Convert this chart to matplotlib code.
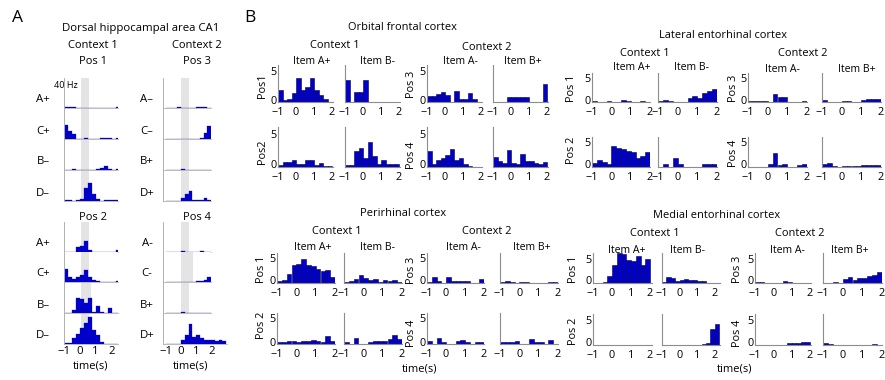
import numpy as np
import matplotlib
matplotlib.use("Agg")
import matplotlib.pyplot as plt
from matplotlib.transforms import ScaledTranslation

# time bins (s): every histogram starts at -1 s, 0.25 s per bin
t0 = -1.0
dt = 0.25

# ---- A: dorsal CA1, firing rate (Hz) per bin
ca1_pos1 = [1, 1, 2, 0, 0, 0, 0, 0, 0, 0, 0, 0, 0, 2]
ca1_pos1_c = [19, 11, 7, 0, 0, 1, 0, 0, 0, 1, 2, 1, 0, 1]
ca1_pos1_b = [0, 0, 1, 0, 0, 0, 0, 0, 1, 3, 5, 1, 0, 1]
ca1_pos1_d = [1, 1, 0, 1, 3, 18, 24, 10, 3, 0, 2, 2, 1, 2]
ca1_pos2 = [0, 0, 0, 7, 8, 15, 2, 0, 0, 0, 0, 0, 0, 2]
ca1_pos2_c = [18, 7, 4, 7, 10, 16, 7, 3, 2, 0, 0, 0, 0, 2]
ca1_pos2_b = [0, 0, 4, 20, 19, 14, 20, 2, 9, 2, 0, 7, 0, 0]
ca1_pos2_d = [1, 2, 8, 13, 21, 28, 36, 19, 12, 3, 0, 0, 0, 0]
ca1_pos3 = [0, 0, 0, 0.7, 0, 0, 0, 0, 0.7, 1.5, 1, 0]
ca1_pos3_c = [0, 0, 0, 0, 0, 0, 0, 0, 0, 1, 8, 18]
ca1_pos3_b = [0.3, 0.3, 0, 0, 0.7, 0, 0, 0, 0, 0, 0, 0]
ca1_pos3_d = [0, 0, 0, 0, 4, 10, 13, 2, 2, 1, 4, 1]
ca1_pos4 = [0, 0, 0, 0, 1, 0, 0, 0, 0, 1, 0, 0]
ca1_pos4_c = [0.5, 0, 0, 0, 0, 0, 0, 0, 1, 1.5, 3, 7]
ca1_pos4_b = [0.5, 0.5, 0, 0, 1.5, 0, 0, 0, 0, 0, 0, 0]
ca1_pos4_d = [0, 0, 0, 0, 6, 12, 27, 10, 12, 8, 6, 6, 6, 4, 6, 4]

ca1_rows_1 = ["A+", "C+", "B\u2013", "D\u2013"]
ca1_rows_3 = ["A\u2013", "C\u2013", "B+", "D+"]
ca1_rows_4 = ["A-", "C-", "B+", "D+"]

# ---- B: population firing, per bin
ofc_p1_aplus = [1.9, 0.4, 0.5, 1.4, 3.9, 2.0, 2.5, 3.9, 2.0, 1.1, 0.5, 0]
ofc_p1_bminus = [3.5, 0, 1.6, 1.6, 3.5, 0, 0, 0, 0, 0, 0, 0]
ofc_p3_aminus = [1.0, 1.0, 1.3, 1.6, 1.2, 0, 1.8, 0.5, 0.5, 1.4, 0.5, 0]
ofc_p3_bplus = [0, 0, 0, 0.8, 0.8, 0.8, 0.8, 0.8, 0, 0, 0, 2.9]
ofc_p2_aplus = [0.3, 0.7, 0.7, 1.1, 0.4, 0.4, 1.1, 1.0, 0.3, 0.6, 0.2, 0.2]
ofc_p2_bminus = [0.3, 0.3, 2.4, 2.9, 1.3, 3.7, 1.6, 0.5, 1.0, 0.4, 0.5, 0.5]
ofc_p4_aminus = [2.4, 0.4, 1.1, 1.4, 1.8, 2.7, 1.0, 1.4, 0.5, 0.2, 0, 0]
ofc_p4_bplus = [1.5, 0.9, 0.6, 2.6, 0.6, 0.5, 2.0, 0.9, 0.9, 0.6, 0.4, 0.7]

lec_p1_aplus = [0.3, 0, 0, 0.3, 0, 0, 0.5, 0.3, 0, 0, 0.3, 0]
lec_p1_bminus = [0.2, 0.4, 0.3, 0.1, 0.1, 0.1, 0.8, 1.2, 0.8, 1.8, 2.3, 2.6]
lec_p3_aminus = [0.2, 0.2, 0.2, 0.2, 0, 1.7, 1.1, 1.1, 0, 0, 0, 0.2]
lec_p3_bplus = [0.5, 0.1, 0.1, 0.1, 0.3, 0.3, 0.1, 0.1, 0.4, 0.7, 0.7, 0.7]
lec_p2_aplus = [0.8, 1.3, 0.9, 0.5, 4.1, 3.7, 3.6, 3.1, 2.9, 1.7, 2.1, 2.9]
lec_p2_bminus = [0, 0.5, 0, 1.7, 0.5, 0, 0, 0, 0, 0.5, 0.5, 0.5]
lec_p4_aminus = [0, 0, 0, 0, 0.6, 2.7, 0.3, 0.6, 0, 0, 0.3, 0.6]
lec_p4_bplus = [0.6, 0.8, 0.2, 0, 0.1, 0.1, 0.2, 0.2, 0.3, 0.3, 0.4, 0.4]

prc_p1_aplus = [0.4, 0.6, 1.9, 3.7, 3.8, 4.9, 3.7, 3.4, 2.8, 2.4, 2.6, 1.2]
prc_p1_bminus = [0.2, 0.5, 0.9, 1.6, 1.1, 0.6, 0.9, 0.3, 0.6, 0.5, 0.6, 0.2]
prc_p3_aminus = [0.3, 1.2, 0.5, 0, 1.2, 0.4, 0.4, 0.4, 0.4, 0, 0, 0.8]
prc_p3_bplus = [0.2, 0.5, 0.2, 0.1, 0.2, 0.2, 0.1, 0, 0, 0, 0.2, 0.3]
prc_p2_aplus = [0.4, 0.4, 0.6, 0.6, 0.3, 0.6, 0.6, 0.8, 0.6, 0.3, 1.6, 0.6]
prc_p2_bminus = [0.3, 0, 1.2, 0, 0, 0.4, 0.5, 0.6, 0.6, 0.9, 1.8, 0.9]
prc_p4_aminus = [0.5, 0, 1.1, 0.4, 0, 0, 0.5, 0.8, 0.3, 0, 0.3, 0.3]
prc_p4_bplus = [0.4, 0.4, 0.4, 0.6, 0, 0, 0.9, 0.3, 0.3, 0, 0.7, 0]

mec_p1_aplus = [0.1, 0.1, 0.2, 1.4, 3.8, 6.1, 6.0, 4.8, 4.6, 5.5, 3.7, 5.0]
mec_p1_bminus = [0.3, 1.3, 1.0, 0.5, 0.7, 0.9, 0.6, 0.6, 0.5, 0.5, 0.1, 0.1, 0.1]
mec_p3_aminus = [0.2, 0.2, 0, 0, 0, 0, 0.4, 0.3, 0.1, 0, 0, 0]
mec_p3_bplus = [0.1, 0.1, 0.3, 0, 0.9, 1.2, 0.6, 1.0, 1.0, 1.5, 1.6, 2.3]
mec_p2_aplus = [0.1, 0.1, 0.05, 0.1, 0.05, 0.05, 0.05, 0.05, 0.1, 0.05, 0.05, 0.05]
mec_p2_bminus = [0, 0.1, 0, 0, 0.1, 0, 0.1, 0, 0, 0.3, 0.5, 3.3, 4.3]
mec_p4_aminus = [0.1, 0.1, 0.05, 0.1, 0.05, 0.1, 0.1, 0.4, 0.4, 0.5, 0.7, 0.7]
mec_p4_bplus = [0.4, 0.2, 0, 0, 0, 0, 0.05, 0, 0, 0, 0.2, 0]

time_ticks = [-1, 0, 1, 2]
rate_ticks = [0, 5]

BLUE = "#0000c8"
EDGE = "#00004a"
SPINE = "#8c8c8c"

plt.rcParams["font.family"] = ["Open Sans", "DejaVu Sans"]
plt.rcParams["axes.unicode_minus"] = True

W, H = 885, 380
fig = plt.figure(figsize=(W / 100, H / 100), dpi=100)
lift = ScaledTranslation(0, 1.8 / 72, fig.dpi_scale_trans)


def px_axes(l, t, r, b):
    # axes from pixel box (top-left origin)
    return fig.add_axes([l / W, 1 - b / H, (r - l) / W, (b - t) / H])


def txt(x, y, s, size=7.5, **kw):
    kw.setdefault("ha", "center")
    kw.setdefault("va", "center")
    fig.text(x / W, 1 - y / H, s, fontsize=size, **kw)


def bars(ax, vals, edge=EDGE, lw=0.4):
    x = t0 + dt * np.arange(len(vals))
    ax.bar(x, vals, width=dt, align="edge", color=BLUE, edgecolor=edge,
           linewidth=lw)


# ---------------- panel A ----------------
def ca1_block(left, right, baselines, series, names, label_x, shades,
              last_right=None, xlim=(-1, 2.4), ticks=False):
    for i, vals in enumerate(series):
        b = baselines[i]
        r = right
        xl = xlim
        if i == len(series) - 1 and last_right is not None:
            r, xl = last_right
        ax = px_axes(left, b - 30, r, b)
        ax.axvspan(*shades[i], color="#e4e4e4", lw=0)
        bars(ax, vals, edge=BLUE, lw=0.2)
        ax.set_xlim(*xl)
        ax.set_ylim(0, 40)
        for s in ["top", "right"]:
            ax.spines[s].set_visible(False)
        ax.spines["left"].set_color("#b0b0b0")
        ax.spines["bottom"].set_color("#b0b0b0")
        ax.spines["left"].set_linewidth(0.7)
        ax.spines["bottom"].set_linewidth(0.6)
        ax.set_yticks([])
        if ticks and i == len(series) - 1:
            ax.set_xticks(time_ticks)
            ax.tick_params(axis="x", length=0, pad=1.5, labelsize=8.2)
        else:
            ax.set_xticks([])
        txt(label_x, b - 8, names[i], size=8.2)


pos1_base = [108, 139, 170, 201]
pos2_base = [252, 282, 313, 344]

ca1_block(64, 118, pos1_base, [ca1_pos1, ca1_pos1_c, ca1_pos1_b, ca1_pos1_d],
          ca1_rows_1, 43, [(0.1, 0.55)] * 4)
ca1_block(64, 118, pos2_base, [ca1_pos2, ca1_pos2_c, ca1_pos2_b, ca1_pos2_d],
          ca1_rows_1, 43, [(0.1, 0.6), (0.1, 0.6), (0.1, 0.7), (0.1, 0.6)],
          ticks=True)
ca1_block(163, 211, pos1_base, [ca1_pos3, ca1_pos3_c, ca1_pos3_b, ca1_pos3_d],
          ca1_rows_3, 147, [(0, 0.55)] * 4, xlim=(-1.2, 2.0))
ca1_block(163, 211, pos2_base, [ca1_pos4, ca1_pos4_c, ca1_pos4_b, ca1_pos4_d],
          ca1_rows_4, 147, [(0, 0.55), (0, 0.8), (0, 0.55), (0, 0)],
          xlim=(-1.2, 2.0), last_right=(227, (-1.2, 3.05)), ticks=True)

txt(17, 18, "A", size=12.5)
txt(141, 28, "Dorsal hippocampal area CA1", size=8.2)
txt(93, 46, "Context 1", size=8)
txt(197, 46, "Context 2", size=8)
txt(93, 62, "Pos 1", size=8)
txt(197, 62, "Pos 3", size=8)
txt(93, 218, "Pos 2", size=8)
txt(197, 218, "Pos 4", size=8)
txt(66, 86, "40 Hz", size=6.5)
txt(91, 366, "time(s)", size=8)
txt(191, 366, "time(s)", size=8)


# ---------------- panel B ----------------
def region(cols, widths, rows, data, xlims, ylim=6):
    for r, (top, bot) in enumerate(rows):
        for c, left in enumerate(cols):
            ax = px_axes(left, top, left + widths[c], bot)
            bars(ax, data[r][c])
            ax.set_xlim(*xlims[c])
            ax.set_ylim(0, ylim)
            ax.set_xticks(time_ticks)
            ax.set_yticks(rate_ticks)
            if c % 2:
                ax.set_yticklabels([])
            for s in ["top", "right"]:
                ax.spines[s].set_visible(False)
            for s in ["left", "bottom"]:
                ax.spines[s].set_color(SPINE)
                ax.spines[s].set_linewidth(0.8)
            ax.tick_params(length=0, labelsize=7.8)
            ax.tick_params(axis="x", pad=3.3)
            ax.tick_params(axis="y", pad=1.0)
            # nudge the "0" up so it clears the "-1" below it
            lab0 = ax.get_yticklabels()[0]
            lab0.set_transform(lab0.get_transform() + lift)


def headers(title, ctx, items, ylabels):
    txt(*title, size=7.9)
    txt(*ctx[0], size=7.9)
    txt(*ctx[1], size=7.9)
    for (x, y, s) in items:
        txt(x, y, s, size=7.6)
    for (x, y, s) in ylabels:
        txt(x, y, s, size=7.8, rotation=90)


region([278, 345, 427, 493], [55, 55, 55, 55], [(65, 102), (127, 167)],
       [[ofc_p1_aplus, ofc_p1_bminus, ofc_p3_aminus, ofc_p3_bplus],
        [ofc_p2_aplus, ofc_p2_bminus, ofc_p4_aminus, ofc_p4_bplus]],
       [(-1, 2.05)] * 4)
headers((402, 28, "Orbital frontal cortex"),
        [(335, 46, "Context 1"), (487, 48, "Context 2")],
        [(312, 62, "Item A+"), (378, 62, "Item B-"),
         (460, 62, "Item A-"), (523, 62, "Item B+")],
        [(262, 86, "Pos1"), (262, 152, "Pos2"),
         (412, 84, "Pos 3"), (412, 155, "Pos 4")])

region([592, 658, 748, 822], [58, 59, 59, 59], [(73, 102), (137, 167)],
       [[lec_p1_aplus, lec_p1_bminus, lec_p3_aminus, lec_p3_bplus],
        [lec_p2_aplus, lec_p2_bminus, lec_p4_aminus, lec_p4_bplus]],
       [(-1, 2.0)] * 4)
headers((723, 35, "Lateral entorhinal cortex"),
        [(645, 53, "Context 1"), (803, 53, "Context 2")],
        [(632, 68, "Item A+"), (692, 68, "Item B-"),
         (782, 69, "Item A-"), (857, 69, "Item B+")],
        [(572, 88, "Pos 1"), (572, 150, "Pos 2"),
         (733, 88, "Pos 3"), (733, 153, "Pos 4")])

region([277, 344, 427, 500], [58, 58, 57, 58], [(253, 283), (313, 344)],
       [[prc_p1_aplus, prc_p1_bminus, prc_p3_aminus, prc_p3_bplus],
        [prc_p2_aplus, prc_p2_bminus, prc_p4_aminus, prc_p4_bplus]],
       [(-1, 2.0)] * 4)
headers((403, 213, "Perirhinal cortex"),
        [(337, 231, "Context 1"), (487, 231, "Context 2")],
        [(313, 247, "Item A+"), (378, 247, "Item B-"),
         (463, 247, "Item A-"), (532, 247, "Item B+")],
        [(262, 269, "Pos 1"), (262, 325, "Pos 2"),
         (412, 270, "Pos 3"), (412, 333, "Pos 4")])
txt(420, 369, "time(s)", size=8)

region([593, 662, 755, 823], [59, 58, 56, 59], [(253, 283), (314, 345)],
       [[mec_p1_aplus, mec_p1_bminus, mec_p3_aminus, mec_p3_bplus],
        [mec_p2_aplus, mec_p2_bminus, mec_p4_aminus, mec_p4_bplus]],
       [(-1, 2.1), (-1, 2.3), (-1, 2.05), (-1, 2.0)], ylim=6.2)
headers((717, 216, "Medial entorhinal cortex"),
        [(655, 233, "Context 1"), (800, 233, "Context 2")],
        [(627, 250, "Item A+"), (688, 250, "Item B-"),
         (787, 250, "Item A-"), (850, 250, "Item B+")],
        [(573, 269, "Pos 1"), (573, 331, "Pos 2"),
         (737, 269, "Pos 3"), (737, 333, "Pos 4")])
txt(735, 369, "time(s)", size=8)

txt(250, 18, "B", size=12.5)

fig.savefig("out.png", dpi=100)
